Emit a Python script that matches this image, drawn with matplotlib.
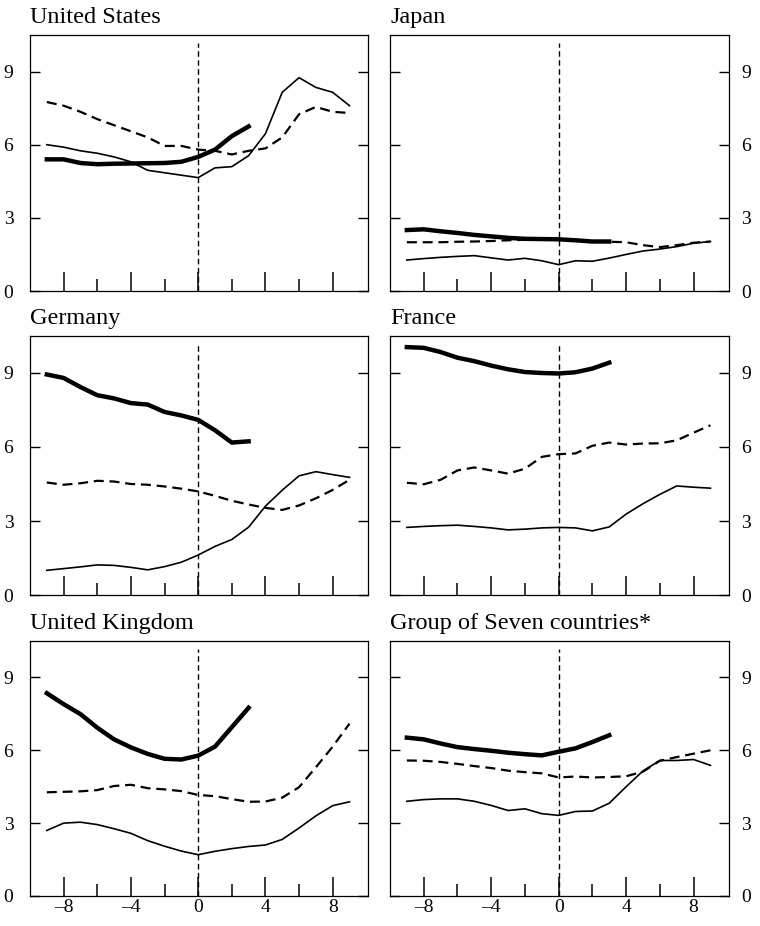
import matplotlib.pyplot as plt

# quarters around the event, and the shorter range of the heavy line
x_long = list(range(-9, 10))
x_short = list(range(-9, 4))

titles = ["United States", "Japan", "Germany", "France",
          "United Kingdom", "Group of Seven countries*"]

us_thick = [5.4, 5.4, 5.25, 5.2, 5.22, 5.23, 5.24, 5.25, 5.3, 5.5, 5.8, 6.35, 6.75]
us_dash = [7.75, 7.6, 7.35, 7.05, 6.8, 6.55, 6.3, 5.95, 5.95, 5.8,
           5.75, 5.6, 5.75, 5.85, 6.3, 7.25, 7.55, 7.35, 7.3]
us_thin = [6.0, 5.9, 5.75, 5.65, 5.5, 5.3, 4.95, 4.85, 4.75, 4.65,
           5.05, 5.1, 5.55, 6.45, 8.15, 8.75, 8.35, 8.15, 7.6]

jp_thick = [2.5, 2.53, 2.45, 2.38, 2.3, 2.24, 2.18, 2.14, 2.13, 2.12, 2.08, 2.03, 2.03]
jp_dash = [2.0, 2.0, 2.0, 2.02, 2.03, 2.05, 2.08, 2.1, 2.1, 2.1,
           2.07, 2.03, 2.02, 2.0, 1.88, 1.8, 1.88, 1.98, 2.03]
jp_thin = [1.27, 1.33, 1.38, 1.42, 1.45, 1.36, 1.27, 1.34, 1.24, 1.08,
           1.24, 1.22, 1.35, 1.5, 1.64, 1.72, 1.82, 1.96, 2.03]

de_thick = [8.94, 8.8, 8.43, 8.1, 7.97, 7.78, 7.72, 7.42, 7.28, 7.1, 6.68, 6.18, 6.23]
de_dash = [4.56, 4.47, 4.53, 4.63, 4.6, 4.5, 4.47, 4.4, 4.31, 4.2,
           4.02, 3.82, 3.67, 3.53, 3.45, 3.63, 3.92, 4.26, 4.67]
de_thin = [1.0, 1.07, 1.14, 1.22, 1.2, 1.12, 1.02, 1.15, 1.33, 1.62,
           1.97, 2.25, 2.75, 3.6, 4.25, 4.83, 5.0, 4.88, 4.77]

fr_thick = [10.05, 10.02, 9.85, 9.62, 9.48, 9.3, 9.15, 9.04, 9.0, 8.98, 9.03, 9.18, 9.42]
fr_dash = [4.55, 4.49, 4.67, 5.05, 5.17, 5.05, 4.92, 5.12, 5.6, 5.71,
           5.74, 6.05, 6.18, 6.1, 6.14, 6.15, 6.27, 6.58, 6.88]
fr_thin = [2.74, 2.78, 2.81, 2.83, 2.78, 2.72, 2.64, 2.67, 2.72, 2.74,
           2.72, 2.6, 2.76, 3.28, 3.7, 4.08, 4.42, 4.37, 4.33]

uk_thick = [8.35, 7.9, 7.49, 6.93, 6.45, 6.12, 5.85, 5.65, 5.62, 5.78, 6.15, 6.95, 7.75]
uk_dash = [4.27, 4.29, 4.31, 4.36, 4.53, 4.58, 4.44, 4.39, 4.32, 4.16,
           4.11, 3.99, 3.88, 3.89, 4.05, 4.48, 5.3, 6.15, 7.1]
uk_thin = [2.7, 3.0, 3.04, 2.94, 2.77, 2.58, 2.28, 2.05, 1.85, 1.7,
           1.84, 1.95, 2.04, 2.1, 2.33, 2.8, 3.3, 3.72, 3.88]

g7_thick = [6.52, 6.45, 6.28, 6.13, 6.05, 5.98, 5.9, 5.84, 5.79, 5.94, 6.08, 6.34, 6.62]
g7_dash = [5.58, 5.57, 5.52, 5.44, 5.35, 5.27, 5.16, 5.1, 5.05, 4.88,
           4.92, 4.88, 4.9, 4.93, 5.12, 5.57, 5.72, 5.86, 6.0]
g7_thin = [3.9, 3.97, 4.0, 4.0, 3.9, 3.73, 3.52, 3.59, 3.39, 3.32,
           3.48, 3.5, 3.82, 4.5, 5.15, 5.58, 5.58, 5.62, 5.38]

thick_lines = [us_thick, jp_thick, de_thick, fr_thick, uk_thick, g7_thick]
dash_lines = [us_dash, jp_dash, de_dash, fr_dash, uk_dash, g7_dash]
thin_lines = [us_thin, jp_thin, de_thin, fr_thin, uk_thin, g7_thin]

xtick_vals = [-8, -4, 0, 4, 8]
xtick_labels = ["\u20138", "\u20134", "0", "4", "8"]
ytick_vals = [0, 3, 6, 9]

plt.rcParams['font.family'] = ['Liberation Serif', 'DejaVu Serif']

W, H = 760, 926
fig = plt.figure(figsize=(W / 100, H / 100), dpi=100)

# panel boxes in pixels: (left, right) per column, (top, bottom) per row
cols = [(30, 368), (390, 729)]
rows = [(35, 291), (336, 595), (641, 896)]

for i in range(6):
    r, c = divmod(i, 2)
    l, rt = cols[c]
    t, b = rows[r]
    ax = fig.add_axes([l / W, 1 - b / H, (rt - l) / W, (b - t) / H])

    ax.plot(x_short, thick_lines[i], color='black', lw=3.2)
    ax.plot(x_long, dash_lines[i], color='black', lw=1.6, dashes=(4.5, 2.6))
    ax.plot(x_long, thin_lines[i], color='black', lw=1.2)
    ax.axvline(0, ymax=0.97, color='black', lw=1.0, linestyle=(0, (4, 2.5)))

    ax.set_xlim(-10, 10.1)
    ax.set_ylim(0, 10.5)
    ax.set_xticks(xtick_vals)
    ax.set_xticks([-6, -2, 2, 6], minor=True)
    ax.set_yticks(ytick_vals)
    ax.tick_params(axis='x', which='major', direction='in', length=14, width=1.1, pad=2, labelsize=14)
    ax.tick_params(axis='x', which='minor', direction='in', length=8.5, width=1.1)
    ax.tick_params(axis='y', direction='in', length=7, width=1, left=True, right=True,
                   labelleft=(c == 0), labelright=(c == 1),
                   pad=(12 if c == 0 else 9), labelsize=14)
    if r == 2:
        ax.set_xticklabels(xtick_labels)
    else:
        ax.set_xticklabels([])
    for s in ax.spines.values():
        s.set_linewidth(0.9)
    ax.set_title(titles[i], loc='left', fontsize=17.5, pad=8.5)

plt.savefig('out.png', dpi=100)
